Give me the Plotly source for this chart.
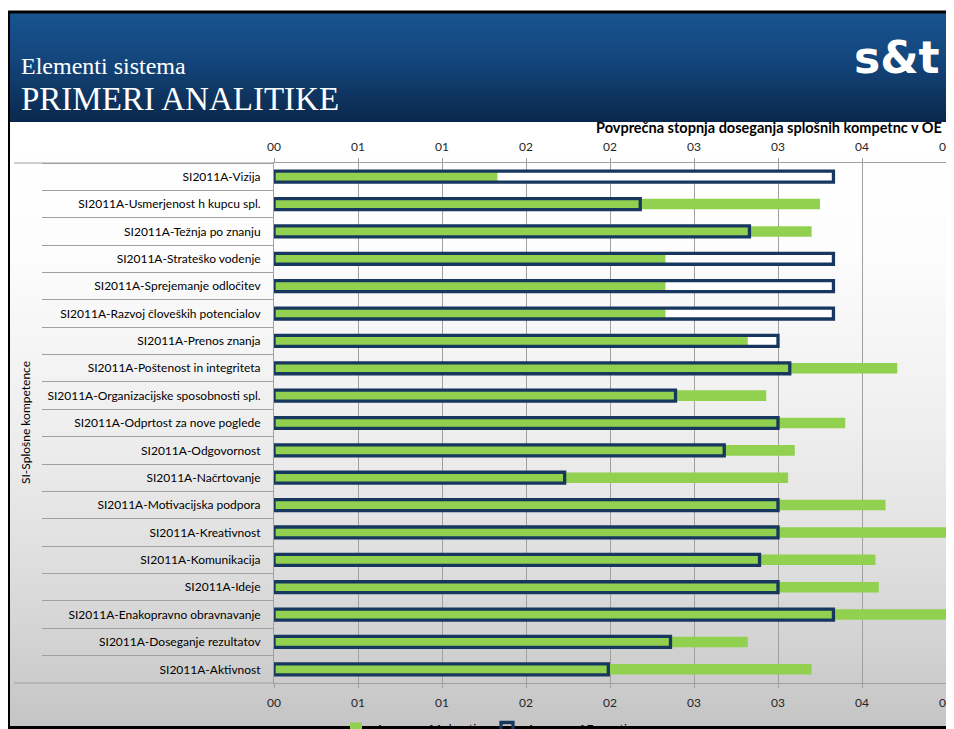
import plotly.graph_objects as go

# ---------------- data ----------------
categories = [
    "SI2011A-Vizija",
    "SI2011A-Usmerjenost h kupcu spl.",
    "SI2011A-Težnja po znanju",
    "SI2011A-Strateško vodenje",
    "SI2011A-Sprejemanje odločitev",
    "SI2011A-Razvoj človeških potencialov",
    "SI2011A-Prenos znanja",
    "SI2011A-Poštenost in integriteta",
    "SI2011A-Organizacijske sposobnosti spl.",
    "SI2011A-Odprtost za nove poglede",
    "SI2011A-Odgovornost",
    "SI2011A-Načrtovanje",
    "SI2011A-Motivacijska podpora",
    "SI2011A-Kreativnost",
    "SI2011A-Komunikacija",
    "SI2011A-Ideje",
    "SI2011A-Enakopravno obravnavanje",
    "SI2011A-Doseganje rezultatov",
    "SI2011A-Aktivnost",
]
ach_rating = [1.33, 3.25, 3.20, 2.33, 2.33, 2.33, 2.82, 3.71, 2.93, 3.40,
              3.10, 3.06, 3.64, 4.00, 3.58, 3.60, 4.00, 2.82, 3.20]
exp_rating = [3.33, 2.18, 2.83, 3.33, 3.33, 3.33, 3.00, 3.07, 2.39, 3.00,
              2.68, 1.73, 3.00, 3.00, 2.89, 3.00, 3.33, 2.36, 1.99]
tick_values = [0, 0.5, 1, 1.5, 2, 2.5, 3, 3.5, 4]
tick_labels = ["00", "01", "01", "02", "02", "03", "03", "04", "04"]
group_label = "SI-Splošne kompetence"
chart_title = "Povprečna stopnja doseganja splošnih kompetnc v OE"

# ---------------- layout geometry (page pixels) ----------------
OFF = 8                      # default page margin of the html body
W, H = 954, 729              # window size
FW, FH = W - OFF, H - OFF    # figure size
L, R, T, B = 274, 946, 163, 683   # plot area in page pixels
PW, PH = R - L, B - T


def px(x):
    return (x - L) / PW


def py(y):
    return (B - y) / PH


FONT = "Lato"
GREEN = "#92d050"
NAVY = "#17375e"
GRID = "#a0a0a0"

fig = go.Figure()

fig.add_trace(go.Bar(x=exp_rating, y=categories, orientation="h", width=0.4,
                     marker=dict(color="white", line=dict(width=0)),
                     showlegend=False, hoverinfo="skip"))
fig.add_trace(go.Bar(x=ach_rating, y=categories, orientation="h", width=0.385,
                     name="Average of Ach rating",
                     marker=dict(color=GREEN, line=dict(width=0))))
fig.add_trace(go.Bar(x=exp_rating, y=categories, orientation="h", width=0.4,
                     name="Average of Exp rating",
                     marker=dict(color="rgba(255,255,255,0)",
                                 line=dict(color=NAVY, width=3.3))))
# helper trace for the top axis and the category separator ticks
fig.add_trace(go.Bar(x=exp_rating, y=categories, orientation="h",
                     xaxis="x2", yaxis="y2", showlegend=False, hoverinfo="skip",
                     marker=dict(color="rgba(0,0,0,0)", line=dict(width=0))))

# ---------------- background shapes ----------------
shapes = []


def lerp(a, b, t):
    return a + (b - a) * t


def interp_color(stops, y):
    for (y0, c0), (y1, c1) in zip(stops, stops[1:]):
        if y0 <= y <= y1:
            t = (y - y0) / (y1 - y0) if y1 > y0 else 0
            return tuple(int(round(lerp(c0[i], c1[i], t))) for i in range(3))
    return stops[-1][1]


bg_stops = [(122, (255, 255, 255)), (250, (253, 253, 253)), (320, (247, 247, 247)),
            (420, (239, 239, 239)), (520, (228, 228, 228)), (620, (214, 214, 214)),
            (729, (196, 196, 196))]
step = 5
y = 122
while y < H:
    c = interp_color(bg_stops, y + step / 2)
    shapes.append(dict(type="rect", xref="paper", yref="paper",
                       x0=px(8), x1=px(960), y0=py(y), y1=py(min(y + step + 1, H + 2)),
                       fillcolor="rgb(%d,%d,%d)" % c, line=dict(width=0), layer="below"))
    y += step

hd_stops = [(12, (24, 84, 145)), (60, (19, 70, 124)), (122, (10, 40, 76))]
y = 12
step = 3
while y < 122:
    c = interp_color(hd_stops, y + step / 2)
    shapes.append(dict(type="rect", xref="paper", yref="paper",
                       x0=px(8), x1=px(960), y0=py(y), y1=py(min(y + step + 1, 122)),
                       fillcolor="rgb(%d,%d,%d)" % c, line=dict(width=0), layer="below"))
    y += step

# outer category group boundaries
for yy in (T, B):
    shapes.append(dict(type="line", xref="paper", yref="paper",
                       x0=px(14), x1=px(L), y0=py(yy), y1=py(yy),
                       line=dict(color=GRID, width=1), layer="below"))

# slide frame
shapes.append(dict(type="rect", xref="paper", yref="paper",
                   x0=px(8.5), x1=px(965), y0=py(12), y1=py(727.5),
                   line=dict(color="black", width=3), fillcolor="rgba(0,0,0,0)",
                   layer="above"))

annotations = [
    dict(text="Elementi sistema", xref="paper", yref="paper", x=px(19), y=py(66),
         xanchor="left", yanchor="middle", showarrow=False,
         font=dict(family="Liberation Serif", size=24, color="white")),
    dict(text="PRIMERI ANALITIKE", xref="paper", yref="paper", x=px(19), y=py(99),
         xanchor="left", yanchor="middle", showarrow=False,
         font=dict(family="Liberation Serif", size=33, color="white")),
    dict(text="<b>s&amp;t</b>", xref="paper", yref="paper", x=px(897), y=py(57),
         xanchor="center", yanchor="middle", showarrow=False,
         font=dict(family="DejaVu Sans", size=44, color="white")),
    dict(text="<b>" + chart_title + "</b>", xref="paper", yref="paper",
         x=px(594), y=py(127), xanchor="left", yanchor="middle", showarrow=False,
         font=dict(family=FONT, size=14.5, color="black")),
    dict(text=group_label, xref="paper", yref="paper", x=px(25), y=py(423),
         xanchor="center", yanchor="middle", textangle=-90, showarrow=False,
         font=dict(family=FONT, size=12, color="black")),
]

axis_common = dict(range=[0, 4], tickvals=tick_values, ticktext=tick_labels,
                   ticks="outside", ticklen=4, tickcolor=GRID, showline=True,
                   linecolor=GRID, linewidth=1, zeroline=False,
                   tickfont=dict(family=FONT, size=12, color="#262626"))

fig.update_layout(
    width=FW, height=FH,
    margin=dict(l=L - OFF, r=W - R, t=T - OFF, b=H - B, autoexpand=False),
    paper_bgcolor="white", plot_bgcolor="rgba(0,0,0,0)",
    barmode="overlay",
    font=dict(family=FONT, size=12, color="black"),
    xaxis=dict(side="bottom", showgrid=True, gridcolor=GRID, gridwidth=1,
               ticklabelstandoff=5, **axis_common),
    xaxis2=dict(side="top", overlaying="x", anchor="y2", showgrid=False,
                ticklabelstandoff=2, **axis_common),
    yaxis=dict(type="category", categoryorder="array", categoryarray=categories,
               range=[18.5, -0.5], showgrid=False, ticks="", showline=True,
               linecolor=GRID, ticklabelstandoff=10,
               tickfont=dict(family=FONT, size=12, color="black")),
    yaxis2=dict(type="category", categoryorder="array", categoryarray=categories,
                range=[18.5, -0.5], overlaying="y", anchor="x2", side="left",
                showgrid=False, showticklabels=False, ticks="outside",
                tickson="boundaries", ticklen=231, tickcolor=GRID, tickwidth=1,
                showline=False),
    legend=dict(orientation="h", x=px(336), y=py(714), xanchor="left", yanchor="top",
                entrywidth=106, entrywidthmode="pixels", itemwidth=30,
                bgcolor="rgba(0,0,0,0)",
                font=dict(family=FONT, size=12, color="black")),
    shapes=shapes,
    annotations=annotations,
    showlegend=True,
)

fig.write_html("out.html")
